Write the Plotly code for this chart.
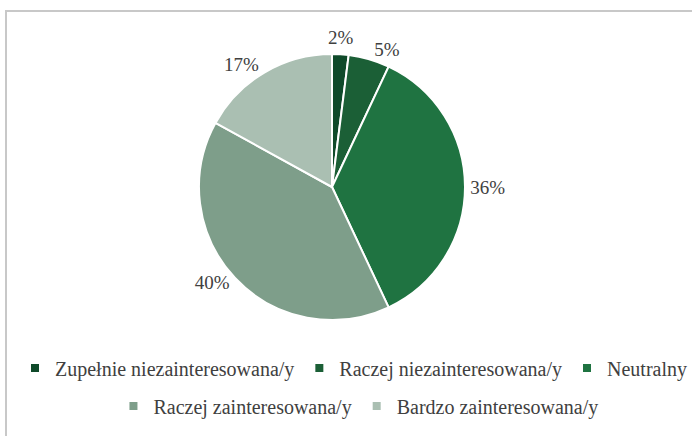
import math
import plotly.graph_objects as go

# Interest level distribution
categories = [
    "Zupełnie niezainteresowana/y",
    "Raczej niezainteresowana/y",
    "Neutralny",
    "Raczej zainteresowana/y",
    "Bardzo zainteresowana/y",
]
shares = [2, 5, 36, 40, 17]
colors = ["#0f4a2a", "#1b5f36", "#1f7341", "#7e9e8a", "#aabfb2"]
# legend row each category is listed in
legend_rows = ["legend", "legend", "legend", "legend2", "legend2"]

W, H = 692, 436
cx, cy, r = 332, 187, 133
SERIF = "Liberation Serif, Times New Roman, Times, serif"
TEXT = "#404040"
LABEL_FONT = dict(family=SERIF, size=19, color=TEXT)

# The thin first slice gets its own label just above its tip, so that the
# automatic outside-label shuffling doesn't push it up onto a leader line.
text_pos = ["none"] + ["outside"] * (len(shares) - 1)

fig = go.Figure()
fig.add_trace(
    go.Pie(
        labels=categories,
        values=shares,
        sort=False,
        direction="clockwise",
        rotation=0,
        marker=dict(colors=colors, line=dict(color="white", width=2)),
        texttemplate="%{value}%",
        textposition=text_pos,
        textfont=LABEL_FONT,
        hoverinfo="label+percent",
        showlegend=False,
        domain=dict(
            x=[(cx - r) / W, (cx + r) / W],
            y=[1 - (cy + r) / H, 1 - (cy - r) / H],
        ),
    )
)

# label for the first slice, placed on its mid-angle just outside the rim
total = sum(shares)
mid = 2 * math.pi * (shares[0] / 2) / total
rr = r + 4
fig.add_annotation(
    x=(cx + rr * math.sin(mid)) / W,
    y=1 - (cy - rr * math.cos(mid)) / H,
    xref="paper", yref="paper",
    text=f"{shares[0]}%", showarrow=False,
    xanchor="center", yanchor="bottom",
    font=LABEL_FONT,
)

# Legend keys (small squares), split over two centred rows
for name, col, lg in zip(categories, colors, legend_rows):
    fig.add_trace(
        go.Scatter(
            x=[None], y=[None], mode="markers", name=name,
            marker=dict(symbol="square", size=8, color=col),
            legend=lg, showlegend=True, hoverinfo="skip",
        )
    )

# Frame around the chart area
fig.add_shape(
    type="rect", xref="paper", yref="paper",
    x0=6 / W, x1=1.02, y0=-0.02, y1=1 - 11 / H,
    line=dict(color="#c8c8c8", width=2),
    fillcolor="rgba(0,0,0,0)",
)

legend_style = dict(
    orientation="h",
    xanchor="center",
    yanchor="middle",
    font=dict(family=SERIF, size=20, color=TEXT),
    itemwidth=30,
    bgcolor="rgba(0,0,0,0)",
)

fig.update_layout(
    width=W, height=H,
    margin=dict(l=0, r=0, t=0, b=0),
    paper_bgcolor="white",
    plot_bgcolor="white",
    xaxis=dict(visible=False),
    yaxis=dict(visible=False),
    legend=dict(legend_style, x=0.518, y=1 - 368 / H),
    legend2=dict(legend_style, x=0.518, y=1 - 406 / H),
)

fig.write_html("out.html")
